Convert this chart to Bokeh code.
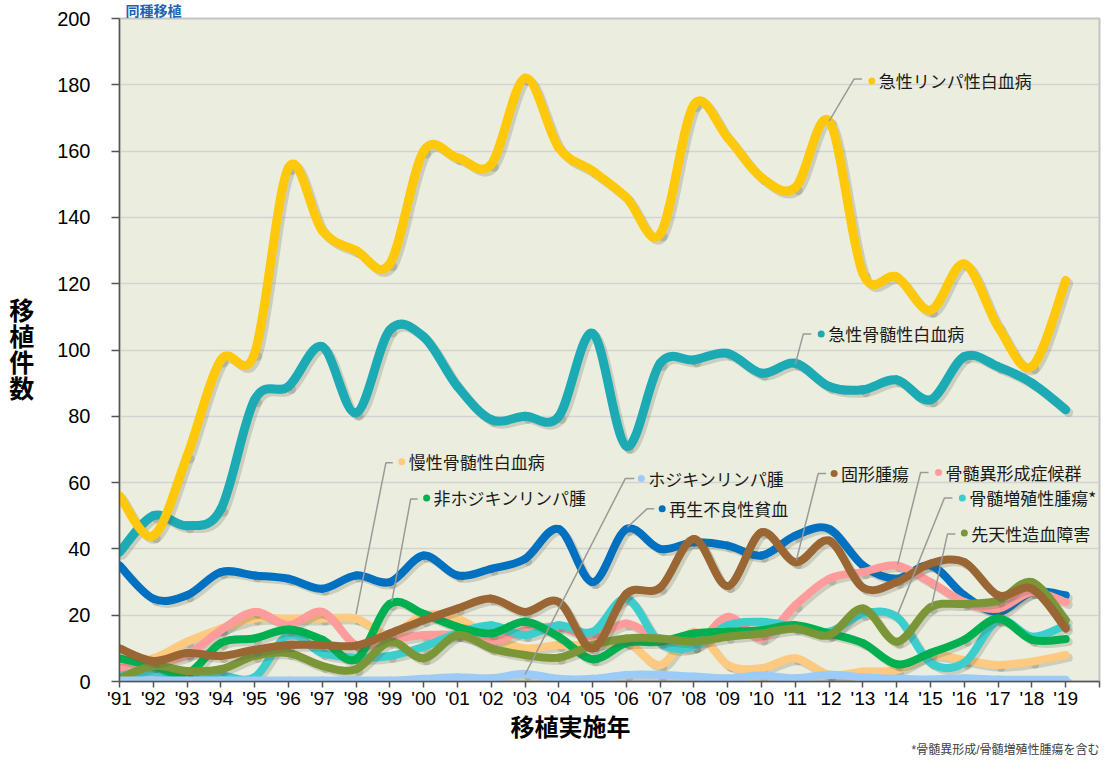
from bokeh.plotting import figure
from bokeh.models import FixedTicker, Range1d, Title
from bokeh.core.properties import value
from bokeh.embed import file_html
from bokeh.resources import INLINE

# ---------------- data ----------------
years = list(range(1991, 2020))
year_labels = ["'%02d" % (y % 100) for y in years]

all_leuk = [56, 44, 68, 97, 99, 155, 136, 130, 126, 160, 158, 156, 182, 161, 154, 146, 135, 174, 164, 152, 149, 169, 123, 122, 112, 126, 107, 95, 121]
aml      = [39, 50, 47, 52, 85, 89, 101, 81, 106, 104, 89, 79, 80, 80, 105, 71, 96, 97, 99, 93, 96, 89, 88, 91, 85, 98, 95, 90, 82]
aa       = [35, 25, 26, 33, 32, 31, 28, 32, 30, 38, 32, 34, 37, 46, 30, 46, 40, 42, 41, 38, 44, 46, 35, 31, 35, 26, 21, 27, 26]
cml      = [5, 7, 12, 16, 19, 19, 19, 19, 14, 20, 19, 13.5, 10, 11, 11, 12, 5, 15, 5, 4, 7, 2, 3, 3.5, 8, 6.5, 5, 6, 8]
mds      = [4, 6, 8, 15.5, 21, 17, 21, 11, 12.6, 14, 14, 12, 15.5, 16.5, 13.5, 17.5, 12.6, 10.6, 19.5, 13, 23, 31, 33, 35, 30, 24, 22, 27, 24]
nhl      = [7, 4.7, 2.3, 11.6, 13, 15.7, 12.6, 6.7, 23.4, 20.4, 16.5, 14.5, 18, 13.5, 6.7, 11.6, 12, 14.5, 15, 15.5, 17, 14.5, 11.6, 5.2, 8.6, 12.6, 19, 12.6, 12.8]
mpn      = [1.8, 2.8, 1.8, 1.8, 1.3, 14, 8.6, 7.2, 7.7, 10.5, 14.5, 17, 14, 17, 15, 25, 11.6, 10.6, 17, 18, 16.5, 15, 20.4, 19.5, 5.7, 5.7, 18.5, 13.5, 17]
congen   = [1, 4.7, 3.2, 3.7, 7.7, 8.6, 4.7, 3.7, 12, 7, 14, 10, 8, 7.2, 11, 13, 13, 12, 13.5, 14.5, 16, 14, 22, 12, 22.4, 23.4, 24.4, 30, 18.5]
solid    = [10, 6.2, 8.6, 7.7, 9.6, 11, 11, 10.8, 14.5, 18.5, 22, 25, 21, 24, 10, 26.5, 28.3, 43, 28.8, 45, 36, 42.5, 28.3, 30, 35.6, 36, 26, 28, 16]
hl       = [0.3, 0.3, 0.3, 0.3, 0.3, 0.3, 0.3, 0.3, 0.3, 0.8, 1.3, 1, 2.3, 0.8, 0.8, 2, 2, 1.5, 1, 1.8, 1, 2, 1.3, 0.8, 0.6, 1, 0.6, 0.5, 0.5]

series_names = ["急性骨髄性白血病", "急性リンパ性白血病", "再生不良性貧血", "慢性骨髄性白血病",
                "骨髄異形成症候群", "骨髄増殖性腫瘍*", "非ホジキンリンパ腫", "先天性造血障害",
                "固形腫瘍", "ホジキンリンパ腫"]
series_values = [aml, all_leuk, aa, cml, mds, mpn, nhl, congen, solid, hl]
series_colors = ["#1CAAB5", "#FFC80A", "#0070C0", "#FFC97F", "#FF9B9B",
                 "#3CCDCD", "#00B050", "#7A9636", "#9A6634", "#9DCBF8"]
series_widths = [9, 9, 8, 8, 8, 8, 8, 8, 8, 8]

y_ticks = list(range(0, 201, 20))

title_text = "同種移植"
x_title = "移植実施年"
y_title = "移\n植\n件\n数"
footnote = "*骨髄異形成/骨髄増殖性腫瘍を含む"

# ---------------- layout helpers (reference px -> data) ----------------
def X(px):
    return 1991 + (px - 119) / 34.0

def Y(py):
    return (697 - py) / 3.395

label_layout = {
    "急性リンパ性白血病": ((876, 82), [(866, 80), (858, 80), (833, 123)]),
    "急性骨髄性白血病":   ((825, 341), [(815, 341), (807, 341), (799, 372)]),
    "慢性骨髄性白血病":   ((403, 472), [(394, 473), (387, 473), (357, 628)]),
    "非ホジキンリンパ腫": ((428, 509), [(419, 510), (412, 510), (393, 615)]),
    "ホジキンリンパ腫":   ((644, 489), [(637, 489), (628, 489), (527, 690)]),
    "再生不良性貧血":     ((665, 520), [(657, 520), (650, 520), (630, 539)]),
    "固形腫瘍":           ((838, 484), [(830, 484), (822, 484), (800, 573)]),
    "骨髄異形成症候群":   ((943, 483), [(933, 483), (925, 483), (902, 577)]),
    "骨髄増殖性腫瘍*":    ((967, 509), [(957, 509), (949, 509), (902, 628)]),
    "先天性造血障害":     ((969, 545), [(960, 546), (952, 546), (936, 620)]),
}

JP = "Noto Sans CJK JP"
JPC = "Liberation Sans, Noto Sans CJK JP"   # compact line metrics, CJK glyphs via fallback
NUM = "Liberation Sans"

p = figure(width=1102, height=756, output_backend="svg", toolbar_location=None,
           x_range=Range1d(1991, 2020), y_range=Range1d(0, 200),
           min_border_left=119, min_border_right=3, min_border_top=18, min_border_bottom=10)

p.background_fill_color = "#EBEEDE"
p.border_fill_color = "white"
p.outline_line_color = "#C4C4C4"
p.outline_line_width = 2

# axes
p.xaxis.ticker = FixedTicker(ticks=years + [2020])
overrides = {y: lab for y, lab in zip(years, year_labels)}
overrides[2020] = ""
p.xaxis.major_label_overrides = overrides
p.yaxis.ticker = FixedTicker(ticks=y_ticks)
for ax in (p.xaxis[0], p.yaxis[0]):
    ax.major_label_text_font = NUM
    ax.major_label_text_color = "black"
    ax.axis_line_color = "#555555"
    ax.axis_line_width = 1.5
    ax.major_tick_line_color = "#555555"
    ax.major_tick_line_width = 1.5
    ax.major_tick_in = 0
    ax.minor_tick_line_color = None
p.xaxis.major_label_text_font_size = "19px"
p.yaxis.major_label_text_font_size = "20px"
p.xaxis.major_tick_out = 6
p.yaxis.major_tick_out = 8
p.xaxis.major_label_standoff = 0
p.yaxis.major_label_standoff = 21

p.yaxis.axis_label = y_title
p.yaxis.axis_label_orientation = "horizontal"
p.yaxis.axis_label_text_font = JPC
p.yaxis.axis_label_text_font_size = "25px"
p.yaxis.axis_label_text_font_style = "bold"
p.yaxis.axis_label_text_line_height = 0.93
p.yaxis.axis_label_text_color = "black"
p.yaxis.axis_label_standoff = 20

p.xgrid.grid_line_color = None
p.ygrid.ticker = FixedTicker(ticks=y_ticks)
p.ygrid.grid_line_color = "#D3D3D3"
p.ygrid.grid_line_width = 1.5

# titles
p.add_layout(Title(text=title_text, align="left", offset=6, standoff=0,
                   text_font=JPC, text_font_size="14px", text_font_style="bold",
                   text_color="#1F62AE"), "above")
p.add_layout(Title(text=x_title, align="left", offset=391, standoff=0,
                   text_font=JPC, text_font_size="24px", text_font_style="bold",
                   text_color="black"), "below")
p.add_layout(Title(text=footnote, align="right", offset=0, standoff=0,
                   text_font=JPC, text_font_size="12px", text_font_style="normal",
                   text_color="#404040"), "below")

# smooth curves as cubic Bezier segments
def bezier_parts(xs, ys):
    n = len(xs)
    out = dict(x0=[], y0=[], x1=[], y1=[], cx0=[], cy0=[], cx1=[], cy1=[])
    for i in range(n - 1):
        im = max(i - 1, 0)
        ip = min(i + 2, n - 1)
        out["x0"].append(xs[i]); out["y0"].append(ys[i])
        out["x1"].append(xs[i + 1]); out["y1"].append(ys[i + 1])
        out["cx0"].append(xs[i] + (xs[i + 1] - xs[im]) / 6.0)
        out["cy0"].append(ys[i] + (ys[i + 1] - ys[im]) / 6.0)
        out["cx1"].append(xs[i + 1] - (xs[ip] - xs[i]) / 6.0)
        out["cy1"].append(ys[i + 1] - (ys[ip] - ys[i]) / 6.0)
    return out

sh_dx = 3 / 34.0
sh_dy = -3 / 3.395
for vals, col, w in zip(series_values, series_colors, series_widths):
    sx = [x + sh_dx for x in years]
    sy = [v + sh_dy for v in vals]
    p.bezier(line_color="#5A5A4A", line_alpha=0.22, line_width=w, line_cap="round",
             **bezier_parts(sx, sy))
    p.bezier(line_color=col, line_width=w, line_cap="round", **bezier_parts(years, vals))

# series labels with leader lines
lx, ly, ltxt, lcol = [], [], [], []
leader_xs, leader_ys = [], []
for name, col in zip(series_names, series_colors):
    (dx, dy), path = label_layout[name]
    lx.append(X(dx)); ly.append(Y(dy)); ltxt.append(name); lcol.append(col)
    leader_xs.append([X(a) for a, b in path])
    leader_ys.append([Y(b) for a, b in path])

p.multi_line(xs=leader_xs, ys=leader_ys, line_color="#9A9A9A", line_width=1.5)
p.scatter(x=lx, y=ly, size=7, color=lcol, line_color=None)
p.text(x=[x + 7 / 34.0 for x in lx], y=ly, text=ltxt, text_font=value(JP),
       text_font_size="17px", text_color="#1A1A1A", text_baseline="middle", text_align="left")

open("out.html", "w").write(file_html(p, INLINE))
